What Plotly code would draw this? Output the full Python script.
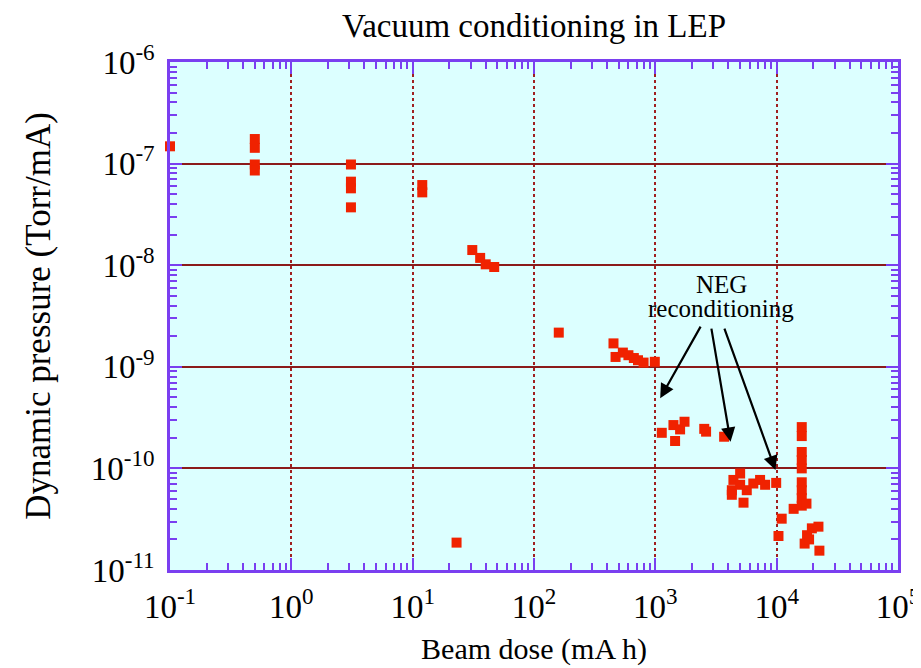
import plotly.graph_objects as go

# Beam dose (mA h)
dose = [0.1,
        0.5, 0.5, 0.5, 0.5,
        3.1, 3.1, 3.1, 3.1,
        12, 12,
        31, 36, 40, 47,
        23,
        160,
        452, 470, 540, 600, 665, 720, 800, 990,
        1130, 1410, 1455, 1600, 1740, 2530, 2620, 3690,
        5000, 4400, 4270, 4270, 5000, 5330, 5670, 6420, 7300, 8030, 9910,
        11000, 10350, 13800,
        16100, 16100, 16100, 16100, 16100, 16100, 16100, 16100, 16100, 17600,
        17800, 17000, 19500, 22100, 22500, 18500]
# Dynamic pressure (Torr/mA)
pressure = [1.48e-7,
            1.745e-7, 1.43e-7, 9.8e-8, 8.55e-8,
            9.8e-8, 6.64e-8, 5.71e-8, 3.71e-8,
            6.15e-8, 5.21e-8,
            1.41e-8, 1.18e-8, 1.02e-8, 9.6e-9,
            1.86e-11,
            2.17e-9,
            1.70e-9, 1.25e-9, 1.38e-9, 1.30e-9, 1.22e-9, 1.16e-9, 1.10e-9, 1.12e-9,
            2.24e-10, 2.67e-10, 1.86e-10, 2.42e-10, 2.88e-10, 2.45e-10, 2.30e-10, 2.05e-10,
            8.9e-11, 7.7e-11, 6.1e-11, 5.5e-11, 6.9e-11, 4.6e-11, 6.1e-11, 7.1e-11, 7.7e-11, 6.9e-11, 7.2e-11,
            3.2e-11, 2.16e-11, 4.0e-11,
            2.55e-10, 2.08e-10, 1.45e-10, 1.21e-10, 1.0e-10, 7.3e-11, 6.1e-11, 5.1e-11, 4.3e-11, 4.5e-11,
            2.2e-11, 1.82e-11, 2.57e-11, 2.67e-11, 1.55e-11, 2.0e-11]

x_tickvals = [1e-1, 1e0, 1e1, 1e2, 1e3, 1e4, 1e5]
x_ticktext = ["10<sup>-1</sup>", "10<sup>0</sup>", "10<sup>1</sup>", "10<sup>2</sup>",
              "10<sup>3</sup>", "10<sup>4</sup>", "10<sup>5</sup>"]
y_tickvals = [1e-11, 1e-10, 1e-9, 1e-8, 1e-7, 1e-6]
y_ticktext = ["10<sup>-11</sup>", "10<sup>-10</sup>", "10<sup>-9</sup>",
              "10<sup>-8</sup>", "10<sup>-7</sup>", "10<sup>-6</sup>"]

# minor tick positions (2..9 within each decade)
x_minor = [k * d for d in x_tickvals[:-1] for k in range(2, 10)]
y_minor = [k * d for d in y_tickvals[:-1] for k in range(2, 10)]

# arrow heads (log10 coords) and tails
arrow_heads = [(3.04, -9.31), (3.62, -9.737), (3.99, -10.016)]
arrow_tails = [(3.38, -8.59), (3.46, -8.61), (3.565, -8.61)]

purple = "#7a3ff0"
gridred = "#8b1a1a"
font = "Liberation Serif"

fig = go.Figure()
fig.add_trace(go.Scatter(
    x=dose, y=pressure, mode="markers", cliponaxis=False,
    marker=dict(symbol="square", size=10, color="#f02200", line=dict(width=0)),
    showlegend=False))

for (hx, hy), (tx, ty) in zip(arrow_heads, arrow_tails):
    fig.add_annotation(x=hx, y=hy, ax=tx, ay=ty, xref="x", yref="y",
                       axref="x", ayref="y", text="", showarrow=True,
                       arrowhead=2, arrowsize=1.3, arrowwidth=2.2, arrowcolor="black")

fig.add_annotation(x=3.545, y=-8.19, xref="x", yref="y", text="NEG", showarrow=False,
                   font=dict(family=font, size=25, color="black"))
fig.add_annotation(x=3.545, y=-8.43, xref="x", yref="y", text="reconditioning", showarrow=False,
                   font=dict(family=font, size=25, color="black"))

fig.update_xaxes(type="log", range=[-1, 5], tickmode="array", tickvals=x_tickvals, ticktext=x_ticktext,
                 showline=True, linecolor=purple, linewidth=2.5, mirror="allticks",
                 ticks="inside", ticklen=12, tickwidth=2, tickcolor=purple,
                 showgrid=True, gridcolor="#a02020", griddash="dot", gridwidth=2,
                 zeroline=False, automargin=False, ticklabelstandoff=6,
                 tickfont=dict(family=font, size=33, color="black"),
                 minor=dict(ticks="inside", ticklen=7, tickwidth=2, tickcolor=purple,
                            tickmode="array", tickvals=x_minor, showgrid=False),
                 title=dict(text="Beam dose (mA h)", font=dict(family=font, size=30, color="black"),
                            standoff=14))
fig.update_yaxes(type="log", range=[-11, -6], tickmode="array", tickvals=y_tickvals, ticktext=y_ticktext,
                 showline=True, linecolor=purple, linewidth=2.5, mirror="allticks",
                 ticks="inside", ticklen=12, tickwidth=2, tickcolor=purple,
                 showgrid=True, gridcolor=gridred, gridwidth=2,
                 zeroline=False, automargin=False, ticklabelstandoff=6,
                 tickfont=dict(family=font, size=33, color="black"),
                 minor=dict(ticks="inside", ticklen=7, tickwidth=2, tickcolor=purple,
                            tickmode="array", tickvals=y_minor, showgrid=False),
                 title=dict(text="Dynamic pressure (Torr/mA)", font=dict(family=font, size=35, color="black"),
                            standoff=30))

fig.update_layout(
    width=913, height=660,
    margin=dict(l=162, r=23, t=54, b=98),
    paper_bgcolor="white", plot_bgcolor="#dcffff",
    title=dict(text="Vacuum conditioning in LEP", xref="paper", x=0.5, xanchor="center",
               yref="container", y=0.974, yanchor="middle",
               font=dict(family=font, size=33, color="black")),
)

fig.write_html("out.html")
